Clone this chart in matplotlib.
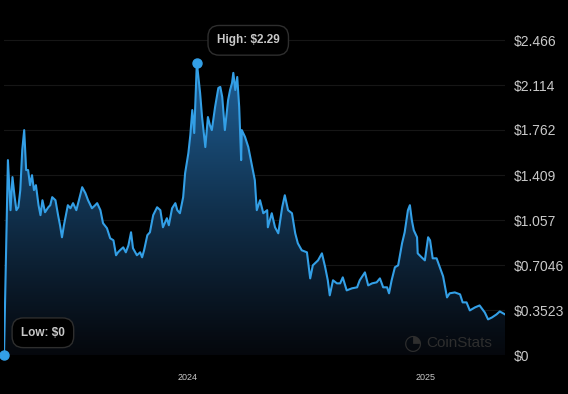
import numpy as np
import pandas as pd
import matplotlib
matplotlib.use("Agg")
import matplotlib.pyplot as plt
import matplotlib.dates as mdates
from matplotlib.patches import Polygon

# days relative to 2024-01-01 and price in USD
days = [-281, -275, -271, -268, -265, -262, -259, -256, -253, -250, -247, -244, -241, -238,
        -235, -232, -228, -225, -222, -218, -213, -210, -207, -202, -198, -195, -192, -189,
        -186, -183, -179, -175, -170, -166, -161, -156, -152, -146, -141, -138, -133, -129,
        -123, -118, -113, -109, -106, -103, -98, -94, -90, -86, -83, -77, -72, -69, -66, -61,
        -57, -52, -46, -41, -37, -31, -28, -23, -18, -15, -11, -6, -3, 2, 5, 8, 11, 15, 20,
        23, 28, 32, 35, 38, 43, 48, 51, 54, 58, 63, 66, 69, 71, 74, 77, 80, 83, 84, 89, 94,
        100, 104, 107, 112, 117, 123, 124, 130, 135, 140, 146, 150, 155, 161, 166, 170, 176,
        184, 189, 193, 201, 207, 212, 216, 219, 224, 230, 235, 239, 245, 253, 261, 265, 273,
        278, 284, 291, 296, 301, 307, 310, 314, 319, 324, 330, 334, 339, 342, 345, 348, 353,
        354, 360, 365, 370, 373, 377, 383, 388, 393, 399, 403, 411, 419, 423, 429, 434, 442,
        449, 457, 462, 468, 475, 480, 488]
price = [0.0, 1.526, 1.134, 1.393, 1.251, 1.134, 1.157, 1.291, 1.605, 1.761, 1.448, 1.448,
         1.330, 1.408, 1.291, 1.330, 1.173, 1.095, 1.212, 1.118, 1.157, 1.173, 1.236, 1.212,
         1.095, 1.016, 0.922, 1.016, 1.095, 1.173, 1.149, 1.189, 1.134, 1.212, 1.314, 1.267,
         1.212, 1.149, 1.173, 1.189, 1.134, 1.032, 0.993, 0.914, 0.898, 0.781, 0.804, 0.820,
         0.843, 0.804, 0.859, 0.961, 0.836, 0.781, 0.804, 0.765, 0.820, 0.938, 0.961, 1.095,
         1.157, 1.134, 1.000, 1.071, 1.016, 1.149, 1.189, 1.134, 1.110, 1.236, 1.424, 1.581,
         1.722, 1.918, 1.738, 2.29, 2.052, 1.863, 1.628, 1.863, 1.801, 1.761, 1.942, 2.091,
         2.099, 2.020, 1.761, 1.997, 2.075, 2.130, 2.209, 2.075, 2.177, 1.942, 1.526, 1.761,
         1.707, 1.628, 1.471, 1.369, 1.134, 1.212, 1.110, 1.134, 1.000, 1.110, 1.000, 0.953,
         1.157, 1.251, 1.134, 1.110, 0.953, 0.875, 0.820, 0.804, 0.600, 0.702, 0.741, 0.796,
         0.687, 0.585, 0.467, 0.585, 0.561, 0.561, 0.608, 0.506, 0.522, 0.530, 0.585, 0.647,
         0.545, 0.561, 0.569, 0.600, 0.530, 0.530, 0.483, 0.585, 0.687, 0.702, 0.875, 0.961,
         1.134, 1.173, 1.055, 0.977, 0.922, 0.796, 0.765, 0.741, 0.922, 0.898, 0.757, 0.757,
         0.687, 0.616, 0.451, 0.483, 0.490, 0.475, 0.412, 0.412, 0.349, 0.373, 0.388, 0.333,
         0.279, 0.294, 0.318, 0.341, 0.318]

y_ticks = [0, 0.3523, 0.7046, 1.057, 1.409, 1.762, 2.114, 2.466]
y_labels = ["$0", "$0.3523", "$0.7046", "$1.057", "$1.409", "$1.762", "$2.114", "$2.466"]
high_label = "High: $2.29"
low_label = "Low: $0"

dates = pd.Timestamp("2024-01-01") + pd.to_timedelta(days, unit="D")
xn = mdates.date2num(dates)
price = np.array(price)

blue = "#339fe6"
label_col = "#c9c9c9"

plt.rcParams["font.family"] = ["Liberation Sans", "DejaVu Sans"]

fig = plt.figure(figsize=(5.68, 3.94), dpi=100, facecolor="black")
ax = fig.add_axes([4 / 568, 39 / 394, 501 / 568, 345 / 394])
ax.set_facecolor("black")

ymax = 2.466 + 30 * 0.0078463
ax.set_xlim(xn[0], xn[-1])
ax.set_ylim(0, ymax)

# gradient fill under the line
top = np.array([0.12, 0.38, 0.60])
bot = np.array([0.02, 0.03, 0.05])
t = np.linspace(0, 1, 256)[:, None]
grad = bot + (top - bot) * (t ** 1.1)
grad = grad[:, None, :].repeat(2, axis=1)
img = ax.imshow(grad, extent=[xn[0], xn[-1], 0, 2.3], origin="lower",
                aspect="auto", zorder=1, interpolation="bilinear")
verts = np.column_stack([np.r_[xn[0], xn, xn[-1]], np.r_[0, price, 0]])
poly = Polygon(verts, closed=True, facecolor="none", edgecolor="none")
ax.add_patch(poly)
img.set_clip_path(poly)

ax.plot(xn, price, color=blue, lw=1.5, zorder=3, solid_joinstyle="round")

for v in y_ticks:
    ax.axhline(v, color="#161616", lw=0.8, zorder=0)

hi = int(np.argmax(price))
ax.plot(xn[hi], price[hi], "o", color=blue, ms=6.5, zorder=4, clip_on=False)
ax.plot(xn[0], price[0], "o", color=blue, ms=6.5, zorder=4, clip_on=False)

box = dict(boxstyle="round,pad=0.75,rounding_size=0.95", fc="black", ec="#2e2e2e", lw=1)
ax.annotate(high_label, xy=(xn[hi], price[hi]), xytext=(37, 16), textcoords="offset points",
            ha="center", va="center", color=label_col, fontsize=8.5, fontweight="bold",
            bbox=box, zorder=5)
ax.annotate(low_label, xy=(xn[0], price[0]), xytext=(28, 16), textcoords="offset points",
            ha="center", va="center", color=label_col, fontsize=8.5, fontweight="bold",
            bbox=box, zorder=5)

ax.yaxis.tick_right()
ax.set_yticks(y_ticks)
ax.set_yticklabels(y_labels)
ax.tick_params(axis="y", length=0, pad=6, labelsize=10, labelcolor=label_col)

ax.xaxis.set_major_locator(mdates.YearLocator())
ax.xaxis.set_major_formatter(mdates.DateFormatter("%Y"))
ax.tick_params(axis="x", length=0, pad=13, labelsize=6.5, labelcolor=label_col)

for s in ax.spines.values():
    s.set_visible(False)

# watermark
fig.text(413 / 568, 1 - 343 / 394, "\u25D4", color="#2e2e2e", fontsize=15,
         ha="center", va="center", family="DejaVu Sans")
fig.text(426 / 568, 1 - 343 / 394, "CoinStats", color="#2e2e2e", fontsize=11,
         ha="left", va="center")

fig.savefig("out.png", dpi=100, facecolor="black")
